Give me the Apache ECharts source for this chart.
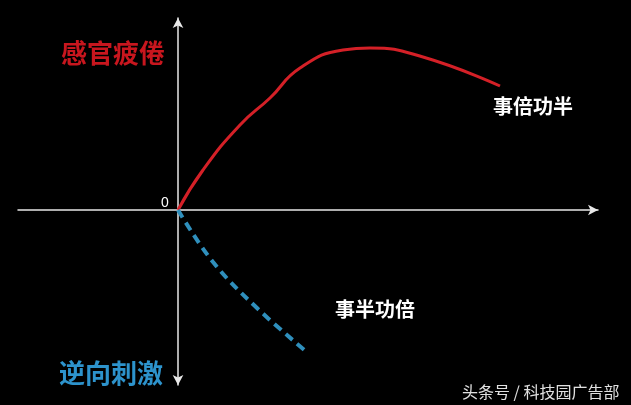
<!DOCTYPE html>
<html><head><meta charset="utf-8">
<script src="https://cdn.jsdelivr.net/npm/echarts@6/dist/echarts.min.js"></script>
<style>html,body{margin:0;padding:0;background:#000;}#c{width:631px;height:405px;}</style>
</head><body><div id="c"></div>
<script>
// values (x: effort, y: response), origin at 0
const fatigueX = [0, 25, 62, 92, 122, 165, 192, 245, 322];
const fatigueY = [0, 40, 85, 112, 142, 160, 162, 153, 124];
const stimulusX = [0, 35, 79, 130];
const stimulusY = [0, -52, -98, -143];
const labels = {
  up: '感官疲倦', down: '逆向刺激',
  high: '事倍功半', low: '事半功倍',
  zero: '0', mark: '头条号 / 科技园广告部'
};

const chart = echarts.init(document.getElementById('c'));
const pair = (xs, ys) => xs.map((x, i) => [x, ys[i]]);
const ff = '"Noto Sans CJK SC", sans-serif';
chart.setOption({
  backgroundColor: '#000',
  animation: false,
  grid: { left: 18, right: 33, top: 18, bottom: 20 },
  xAxis: {
    type: 'value', min: -160, max: 420,
    axisLine: { show: true, onZero: true, lineStyle: { color: '#e8e8e8', width: 1.5 },
      symbol: ['none', 'arrow'], symbolSize: [8, 10] },
    axisTick: { show: false }, axisLabel: { show: false }, splitLine: { show: false }
  },
  yAxis: {
    type: 'value', min: -175, max: 192,
    axisLine: { show: true, onZero: true, lineStyle: { color: '#e8e8e8', width: 1.5 },
      symbol: ['arrow', 'arrow'], symbolSize: [8, 10] },
    axisTick: { show: false }, axisLabel: { show: false }, splitLine: { show: false }
  },
  series: [
    { type: 'line', data: pair(fatigueX, fatigueY), smooth: 0.5, showSymbol: false,
      lineStyle: { color: '#d42027', width: 3 } },
    { type: 'line', data: pair(stimulusX, stimulusY), smooth: 0.4, showSymbol: false,
      lineStyle: { color: '#2f8fbc', width: 4, type: [9, 6] } }
  ],
  graphic: [
    { type: 'text', left: 61, top: 40, style: { text: labels.up, fill: '#c8161e',
      font: 'bold 26px ' + ff, shadowBlur: 4, shadowColor: '#c8161e' } },
    { type: 'text', left: 59, top: 360, style: { text: labels.down, fill: '#2d93cc',
      font: 'bold 26px ' + ff, shadowBlur: 4, shadowColor: '#2d93cc' } },
    { type: 'text', left: 493, top: 96, style: { text: labels.high, fill: '#fff',
      font: 'bold 20px ' + ff } },
    { type: 'text', left: 335, top: 299, style: { text: labels.low, fill: '#fff',
      font: 'bold 20px ' + ff } },
    { type: 'text', left: 161, top: 196, style: { text: labels.zero, fill: '#fff',
      font: '14px "Liberation Sans", sans-serif' } },
    { type: 'text', left: 462, top: 384, style: { text: labels.mark, fill: '#e0e0e0',
      font: '16px ' + ff } }
  ]
});
</script></body></html>
